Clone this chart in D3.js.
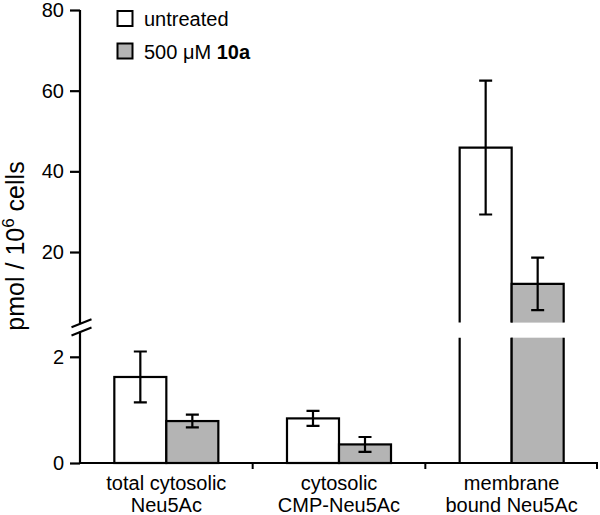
<!DOCTYPE html>
<html><head><meta charset="utf-8">
<script src="https://cdn.jsdelivr.net/npm/d3@7"></script>
<style>body{margin:0;background:#fff}svg{display:block;font-family:"Liberation Sans",Arial,sans-serif}</style>
</head><body><svg id="c" width="600" height="515"></svg>
<script>
const categories = [["total cytosolic","Neu5Ac"],["cytosolic","CMP-Neu5Ac"],["membrane","bound Neu5Ac"]];
const series = ["untreated","treated"];
const untreated = [1.62, 0.84, 45.9];
const untreatedErr = [0.48, 0.14, 16.6];
const treated = [0.79, 0.35, 12.1];
const treatedErr = [0.12, 0.14, 6.5];
const upperTicks = [20, 40, 60, 80];
const lowerTicks = [0, 2];
const lowMax = 2.36, upMin = 2.5;

const svg = d3.select("#c");
const L = 80, R = 598, B = 463;
const yLow = d3.scaleLinear().domain([0, lowMax]).range([B, 337.7]);
const yUp = d3.scaleLinear().domain([upMin, 80]).range([322.6, 10]);
const x0 = d3.scaleBand().domain(d3.range(categories.length)).range([L, R]).padding(0);
const x1 = d3.scaleBand().domain(series).range([0, x0.bandwidth()]).paddingInner(0).paddingOuter(0.66);
const fills = {untreated: "#ffffff", treated: "#b4b4b4"};

const data = [];
categories.forEach((c, i) => {
  data.push({i, s: "untreated", v: untreated[i], e: untreatedErr[i]});
  data.push({i, s: "treated", v: treated[i], e: treatedErr[i]});
});
const yOf = v => v <= lowMax ? yLow(v) : yUp(v);

const g = svg.append("g");
data.forEach(d => {
  const xa = x0(d.i) + x1(d.s), xb = xa + x1.bandwidth();
  if (d.v <= lowMax) {
    g.append("rect").attr("x", xa).attr("y", yLow(d.v)).attr("width", xb - xa).attr("height", B - yLow(d.v))
      .attr("fill", fills[d.s]).attr("stroke", "#000").attr("stroke-width", 2.2);
  } else {
    const lt = yLow.range()[1], ub = yUp.range()[0], top = yUp(d.v);
    g.append("rect").attr("x", xa).attr("y", lt).attr("width", xb - xa).attr("height", B - lt).attr("fill", fills[d.s]);
    g.append("rect").attr("x", xa).attr("y", top).attr("width", xb - xa).attr("height", ub - top).attr("fill", fills[d.s]);
    g.append("path").attr("d", `M${xa},${lt}V${B}M${xb},${lt}V${B}M${xa},${ub}V${top}H${xb}V${ub}`)
      .attr("fill", "none").attr("stroke", "#000").attr("stroke-width", 2.2);
  }
  const cx = (xa + xb) / 2, cw = 6.5;
  const yt = yOf(d.v + d.e), yb = yOf(d.v - d.e);
  g.append("path").attr("d", `M${cx},${yt}V${yb}M${cx - cw},${yt}H${cx + cw}M${cx - cw},${yb}H${cx + cw}`)
    .attr("fill", "none").attr("stroke", "#000").attr("stroke-width", 2.2);
});

// Y axes
const axStyle = sel => {
  sel.select(".domain").remove();
  sel.selectAll(".tick line").attr("stroke", "#000").attr("stroke-width", 2.2);
  sel.selectAll(".tick text").attr("font-size", 20).attr("fill", "#000").attr("font-family", "Liberation Sans, Arial, sans-serif");
};
svg.append("g").attr("transform", `translate(${L},0)`)
  .call(d3.axisLeft(yUp).tickValues(upperTicks).tickSize(10).tickPadding(6).tickFormat(d3.format("d"))).call(axStyle);
svg.append("g").attr("transform", `translate(${L},0)`)
  .call(d3.axisLeft(yLow).tickValues(lowerTicks).tickSize(10).tickPadding(6).tickFormat(d3.format("d"))).call(axStyle);
svg.append("path").attr("d", `M${L},${yUp(80)}V323.5M${L},331.5V${B}`).attr("stroke", "#000").attr("stroke-width", 2.2).attr("fill", "none");
// break marks
svg.append("path").attr("d", `M71.5,327.3L91.5,319.3M71.5,335.5L91.5,327.5`).attr("stroke", "#000").attr("stroke-width", 2).attr("fill", "none");

// X axis
svg.append("path").attr("d", `M${L - 1},${B}H${R}`).attr("stroke", "#000").attr("stroke-width", 2.2);
categories.forEach((c, i) => {
  if (i > 0) svg.append("line").attr("x1", x0(i)).attr("x2", x0(i)).attr("y1", B).attr("y2", B + 6).attr("stroke", "#000").attr("stroke-width", 2);
  const t = svg.append("text").attr("text-anchor", "middle").attr("font-size", 20).attr("fill", "#000");
  c.forEach((line, k) => t.append("tspan").attr("x", x0(i) + x0.bandwidth() / 2).attr("y", 489.5 + k * 22.5).text(line));
});
svg.append("line").attr("x1", R - 1).attr("x2", R - 1).attr("y1", B).attr("y2", B + 6).attr("stroke", "#000").attr("stroke-width", 2);

// Y label
const yl = svg.append("text").attr("transform", "translate(23.5,246) rotate(-90)").attr("text-anchor", "middle").attr("font-size", 25).attr("fill", "#000");
yl.append("tspan").text("pmol / 10");
yl.append("tspan").attr("dy", -10).attr("font-size", 17).text("6");
yl.append("tspan").attr("dy", 10).text(" cells");

// Legend
const leg = [{s: "untreated", label: [["untreated", "normal"]]}, {s: "treated", label: [["500 μM ", "normal"], ["10a", "bold"]]}];
leg.forEach((l, k) => {
  const y = 11 + k * 32.5;
  svg.append("rect").attr("x", 117.5).attr("y", y).attr("width", 15).attr("height", 15).attr("fill", fills[l.s]).attr("stroke", "#000").attr("stroke-width", 2);
  const t = svg.append("text").attr("x", 144).attr("y", y + 15.3).attr("font-size", 20).attr("fill", "#000");
  l.label.forEach(([s, w]) => t.append("tspan").attr("font-weight", w).text(s));
});
</script></body></html>
